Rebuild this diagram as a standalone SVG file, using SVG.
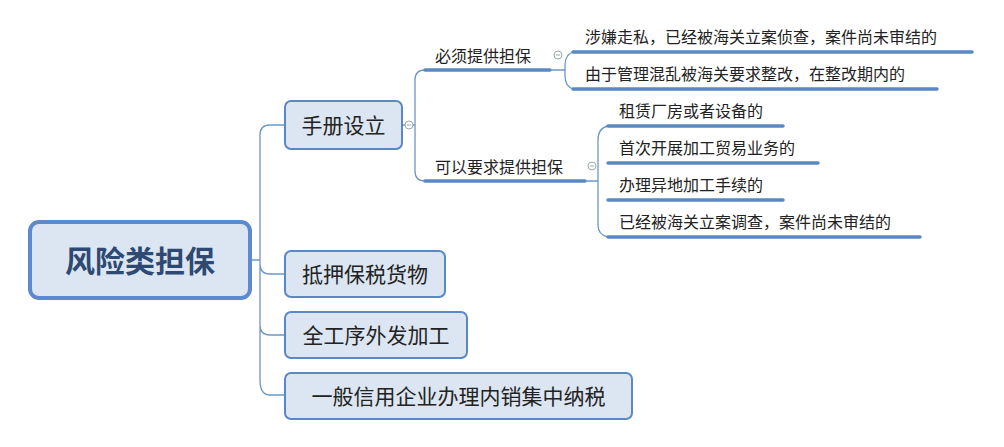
<svg xmlns="http://www.w3.org/2000/svg" width="1004" height="447" viewBox="0 0 1004 447">
<style>
.t{font-family:"Noto Sans CJK SC","Noto Sans",sans-serif;fill:#222;}
.box{fill:#dce6f2;stroke:#5a88c4;stroke-width:2;}
.c{fill:none;stroke:#6e96c8;stroke-width:1.3;}
.u{stroke:#5a88c4;stroke-width:3.5;stroke-linecap:round;}
.k{fill:#fff;stroke:#9aa;stroke-width:1;}
</style>
<rect width="1004" height="447" fill="#fff"/>
<g id="connectors">
<path class="c" d="M250 260H260M260 135Q260 125 270 125H285M260 135V380Q260 395 270 395H285M260 264Q260 274 270 274H285M260 325Q260 335 270 335H285"/>
<path class="c" d="M402 125H415M415 80Q415 70 425 70M415 80V171Q415 181 425 181"/>
<line class="u" x1="425" y1="70" x2="550" y2="70"/>
<line class="u" x1="425" y1="181" x2="585" y2="181"/>
<path class="c" d="M550 70H565M573 52Q565 55 565 65V76Q565 86 573 89"/>
<path class="c" d="M585 181H598M608 126Q598 128 598 140V225Q598 235 608 237"/>
<line class="u" x1="573" y1="52" x2="972" y2="52"/>
<line class="u" x1="573" y1="89" x2="937" y2="89"/>
<line class="u" x1="608" y1="126" x2="783" y2="126"/>
<line class="u" x1="608" y1="163" x2="818" y2="163"/>
<line class="u" x1="608" y1="200" x2="783" y2="200"/>
<line class="u" x1="608" y1="237" x2="920" y2="237"/>
<circle class="k" cx="409" cy="125" r="4"/><line x1="407" y1="125" x2="411" y2="125" stroke="#9aa"/>
<circle class="k" cx="558" cy="55" r="4"/><line x1="556" y1="55" x2="560" y2="55" stroke="#9aa"/>
<circle class="k" cx="592" cy="166" r="4"/><line x1="590" y1="166" x2="594" y2="166" stroke="#9aa"/>
</g>
<g id="root"><rect x="30" y="222" width="220" height="76" rx="9" fill="#dce6f2" stroke="#5b8ad0" stroke-width="4"/>
<text class="t" x="140" y="272" font-size="30" font-weight="bold" text-anchor="middle" style="fill:#2e4a72">风险类担保</text></g>
<g id="n1"><rect class="box" x="285" y="101" width="117" height="48" rx="6"/><text class="t" x="343.5" y="133" font-size="21" text-anchor="middle">手册设立</text></g>
<g id="n2"><rect class="box" x="285" y="251" width="160" height="46" rx="6"/><text class="t" x="365" y="282" font-size="21" text-anchor="middle">抵押保税货物</text></g>
<g id="n3"><rect class="box" x="285" y="312" width="182" height="46" rx="6"/><text class="t" x="376" y="343" font-size="21" text-anchor="middle">全工序外发加工</text></g>
<g id="n4"><rect class="box" x="285" y="373" width="347" height="46" rx="6"/><text class="t" x="458.5" y="404" font-size="21" text-anchor="middle">一般信用企业办理内销集中纳税</text></g>
<g id="b1"><text class="t" x="435" y="62" font-size="16">必须提供担保</text></g>
<g id="b2"><text class="t" x="435" y="173" font-size="16">可以要求提供担保</text></g>
<g id="l1"><text class="t" x="585" y="43" font-size="16">涉嫌走私，已经被海关立案侦查，案件尚未审结的</text></g>
<g id="l2"><text class="t" x="585" y="80" font-size="16">由于管理混乱被海关要求整改，在整改期内的</text></g>
<g id="l3"><text class="t" x="619" y="117" font-size="16">租赁厂房或者设备的</text></g>
<g id="l4"><text class="t" x="619" y="154" font-size="16">首次开展加工贸易业务的</text></g>
<g id="l5"><text class="t" x="619" y="191" font-size="16">办理异地加工手续的</text></g>
<g id="l6"><text class="t" x="619" y="228" font-size="16">已经被海关立案调查，案件尚未审结的</text></g>
</svg>
